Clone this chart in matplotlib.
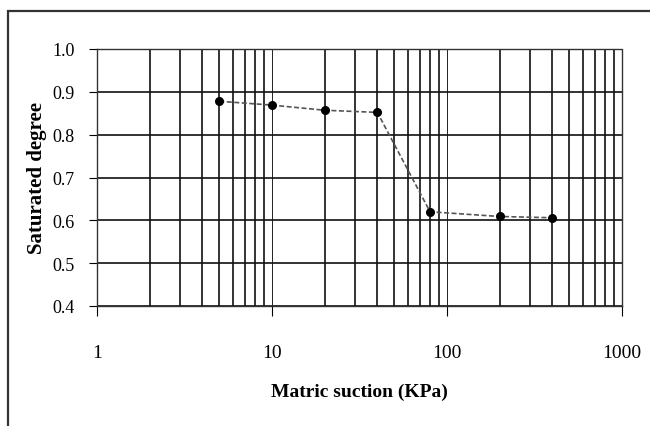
import matplotlib
matplotlib.use("Agg")
import matplotlib.pyplot as plt
import matplotlib.patches as patches
from matplotlib.ticker import LogLocator, FixedLocator, NullFormatter

# Data
suction = [5, 10, 20, 40, 80, 200, 400]
saturation = [0.878, 0.869, 0.857, 0.852, 0.620, 0.609, 0.606]
x_ticks = [1, 10, 100, 1000]
x_tick_labels = ["1", "10", "100", "1000"]
y_ticks = [0.4, 0.5, 0.6, 0.7, 0.8, 0.9, 1.0]

plt.rcParams["font.family"] = ["Liberation Serif", "DejaVu Serif"]

fig = plt.figure(figsize=(6.5, 4.27), dpi=100)
ax = fig.add_axes([97 / 650, 1 - 307 / 427, 525 / 650, 257 / 427])

# outer frame (only top and left edge visible in the scan)
frame = patches.Rectangle((8 / 650, -0.1), 1.2, 1 - 12 / 427 + 0.1,
                          transform=fig.transFigure, fill=False,
                          edgecolor="#333333", linewidth=1.6)
fig.add_artist(frame)

ax.set_xscale("log")
ax.set_xlim(1, 1000)
ax.set_ylim(0.4, 1.0)

ax.xaxis.set_major_locator(FixedLocator(x_ticks))
ax.set_xticklabels(x_tick_labels)
ax.xaxis.set_minor_locator(LogLocator(base=10, subs=range(2, 10)))
ax.xaxis.set_minor_formatter(NullFormatter())
ax.set_yticks(y_ticks)
ax.set_yticklabels([f"{v:.1f}" for v in y_ticks])

ax.grid(which="major", axis="x", color="#222222", linewidth=0.7)
ax.grid(which="minor", axis="x", color="#111111", linewidth=1.2)
ax.grid(which="major", axis="y", color="#111111", linewidth=1.2)
ax.set_axisbelow(True)

ax.tick_params(axis="x", which="major", direction="out", length=7, width=0.8,
               pad=20, labelsize=14)
ax.tick_params(axis="x", which="minor", length=0)
ax.tick_params(axis="y", direction="out", length=6, width=0.8, pad=10,
               labelsize=13)

for s in ax.spines.values():
    s.set_color("#333333")
    s.set_linewidth(1.0)
for s in ("top", "right"):
    ax.spines[s].set_linestyle((0, (2, 1)))

ax.plot(suction, saturation, linestyle=(0, (3, 1.5)), color="#555555",
        linewidth=1.2, marker="o", markersize=5.5,
        markerfacecolor="black", markeredgecolor="black", zorder=5)

ax.set_xlabel("Matric suction (KPa)", fontsize=14, fontweight="bold")
ax.xaxis.set_label_coords(0.5, -(392 - 307) / 257, transform=ax.transAxes)
ax.set_ylabel("Saturated degree", fontsize=15, fontweight="bold")
ax.yaxis.set_label_coords(-(97 - 37) / 525, 0.5, transform=ax.transAxes)
ax.yaxis.label.set_va("center")
ax.xaxis.label.set_va("center")

fig.savefig("out.png", dpi=100)
